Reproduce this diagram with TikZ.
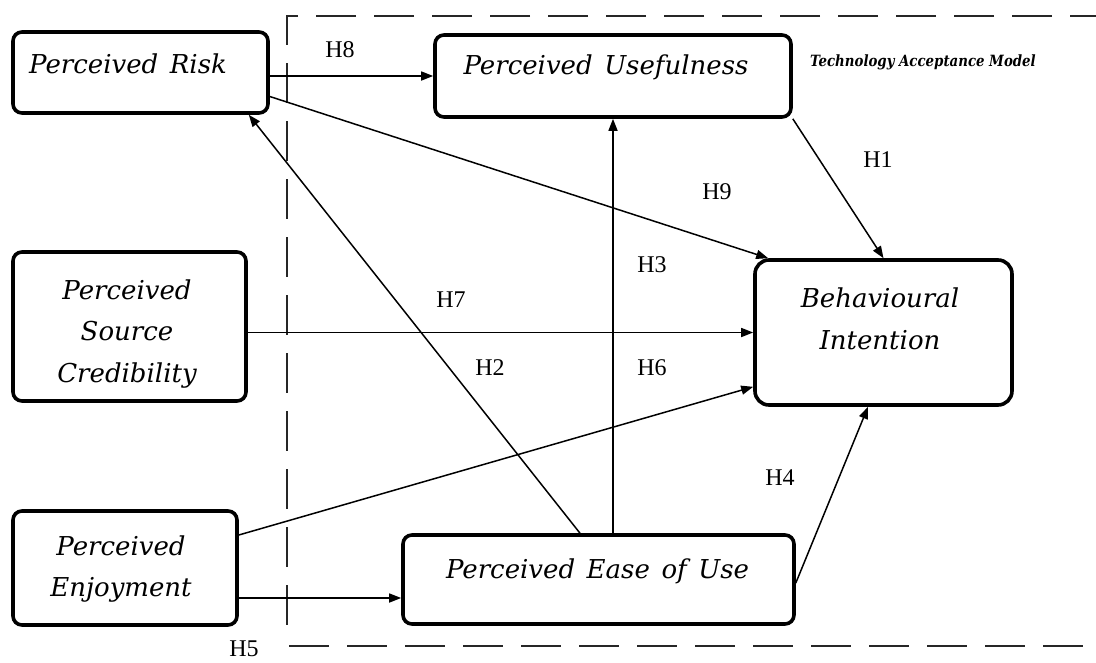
\documentclass[tikz,border=0pt]{standalone}
\usepackage{fontspec}
\setmainfont{Liberation Serif}
\newfontfamily\hfont{Liberation Serif}
\newfontfamily\boxfont{DejaVu Serif}[WordSpace=1.4]
\newfontfamily\tamfont{DejaVu Serif}[FakeStretch=0.86]
\usetikzlibrary{arrows.meta}
\begin{document}
\begin{tikzpicture}[x=1pt,y=-1pt,
  box/.style={draw, line width=3.6pt, rounded corners=9pt, inner sep=0pt},
  boxtext/.style={font=\boxfont\itshape\fontsize{26}{41.5}\selectfont, align=center, inner sep=0pt},
  hyp/.style={font=\hfont\fontsize{24}{24}\selectfont, inner sep=0pt},
  link/.style={line width=1.5pt, -{Triangle[length=12pt,width=9pt]}},
  frame/.style={line width=2.2pt, dash pattern=on 40pt off 18pt, black!85}]
\useasboundingbox (0,0) rectangle (1096,662);

% model frame (dashed)
\draw[frame] (1110,16) -- (287,16) -- (287,640);
\draw[frame] (289,646) -- (1110,646);
\node[font=\tamfont\bfseries\itshape\fontsize{15.5}{16}\selectfont, inner sep=0pt] (tam) at (923,62) {Technology Acceptance Model};

% constructs
\node[box, minimum width=255pt, minimum height=81pt] (pr) at (140.5,72.5) {};
\node[boxtext] (prt) at (128,64) {Perceived Risk};

\node[box, minimum width=356pt, minimum height=82pt] (pu) at (613,76) {};
\node[boxtext] (put) at (606,67) {Perceived Usefulness};

\node[box, minimum width=233pt, minimum height=149pt] (psc) at (129.5,326.5) {};
\node[boxtext] (psct) at (127,334) {Perceived\\Source\\Credibility};

\node[box, minimum width=257pt, minimum height=145pt, rounded corners=14pt] (bi) at (883.5,332.5) {};
\node[boxtext] (bit) at (880,319) {Behavioural\\Intention};

\node[box, minimum width=224pt, minimum height=114pt] (pe) at (125,568) {};
\node[boxtext] (pet) at (121,569) {Perceived\\Enjoyment};

\node[box, minimum width=391pt, minimum height=89pt] (peou) at (598.5,579.5) {};
\node[boxtext] (peout) at (597.5,571) {Perceived Ease of Use};

% hypotheses
\draw[link] (pr.east |- pu.west) -- (pu.west);
\draw[link] ([yshift=-24pt]pr.east) -- ([xshift=15pt]bi.north west);
\draw[link] (pu.south east) -- (bi.north);
\draw[link] (pu.south |- peou.north) -- (pu.south);
\draw[link] ([xshift=-18.5pt]peou.north) -- ([xshift=-21pt]pr.south east);
\draw[link] (psc.east |- bi.west) -- (bi.west);
\draw[link] ([yshift=33pt]pe.east) -- ([yshift=20pt]bi.south west);
\coordinate (h5end) at ([yshift=-18.5pt]peou.west);
\draw[link] (pe.east |- h5end) -- (h5end);
\draw[link] ([yshift=-3.5pt]peou.east) -- ([xshift=-15.5pt]bi.south);

% hypothesis labels
\node[hyp] (h8) at (340,50) {H8};
\node[hyp] (h1) at (878,160) {H1};
\node[hyp] (h9) at (717,192) {H9};
\node[hyp] (h3) at (652,265) {H3};
\node[hyp] (h7) at (451,300) {H7};
\node[hyp] (h2) at (490,368) {H2};
\node[hyp] (h6) at (652,368) {H6};
\node[hyp] (h4) at (780,478) {H4};
\node[hyp] (h5) at (244,649) {H5};
\end{tikzpicture}
\end{document}
